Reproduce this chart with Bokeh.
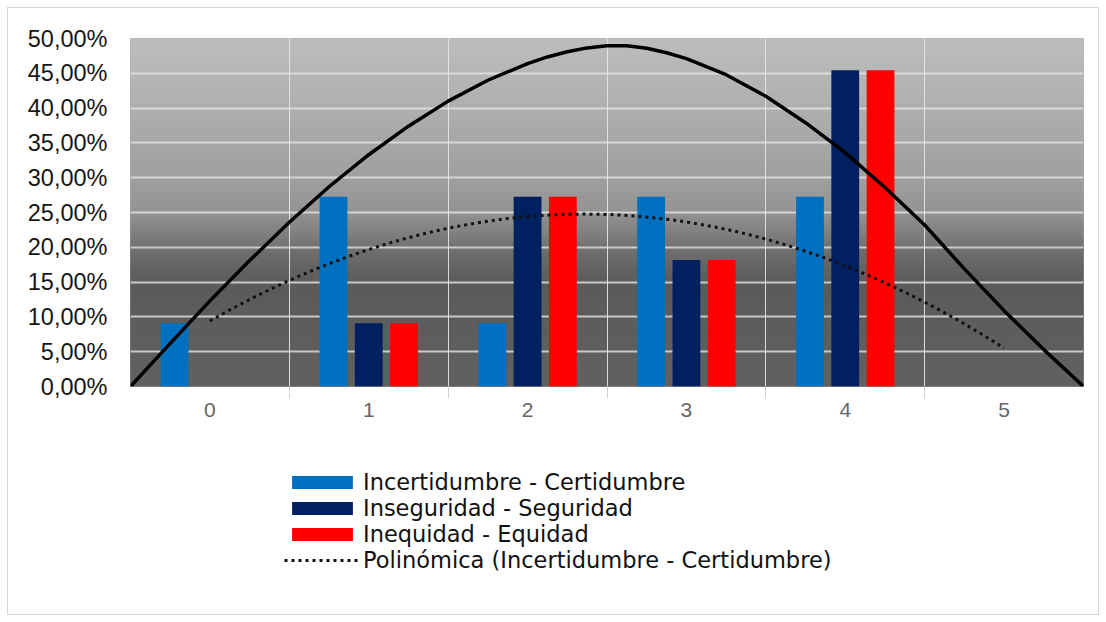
import numpy as np
from bokeh.plotting import figure
from bokeh.layouts import column
from bokeh.models import Range1d, FixedTicker, Grid, Legend, LegendItem
from bokeh.embed import file_html
from bokeh.resources import INLINE

# ---------------- data ----------------
categories = ["0", "1", "2", "3", "4", "5"]
x_pos = [0, 1, 2, 3, 4, 5]
incertidumbre = [9.09, 27.27, 9.09, 27.27, 27.27, 0.0]
inseguridad = [0.0, 9.09, 27.27, 18.18, 45.45, 0.0]
inequidad = [0.0, 9.09, 27.27, 18.18, 45.45, 0.0]
series_names = ["Incertidumbre - Certidumbre", "Inseguridad - Seguridad", "Inequidad - Equidad"]
trend_name = "Polinómica (Incertidumbre - Certidumbre)"

# hand-drawn black curve
curve_x = [-0.5, -0.25, 0.0, 0.25, 0.5, 0.75, 1.0, 1.25, 1.5, 1.75, 2.0, 2.125, 2.25, 2.375, 2.5,
           2.625, 2.75, 2.875, 3.0, 3.25, 3.5, 3.75, 4.0, 4.25, 4.5, 4.75, 5.0, 5.25, 5.5]
curve_y = [0.0, 6.2, 12.3, 18.1, 23.6, 28.7, 33.3, 37.4, 41.0, 44.0, 46.4, 47.35, 48.1, 48.65, 48.95,
           48.95, 48.6, 47.95, 47.1, 44.8, 41.7, 37.9, 33.6, 28.6, 23.2, 16.9, 10.9, 5.3, 0.0]

y_ticks = [0, 5, 10, 15, 20, 25, 30, 35, 40, 45, 50]
y_tick_labels = ["0,00%", "5,00%", "10,00%", "15,00%", "20,00%", "25,00%",
                 "30,00%", "35,00%", "40,00%", "45,00%", "50,00%"]

# ---------------- style ----------------
colors = ["#0070c0", "#002060", "#ff0000"]
offsets = [-0.222, 0.0, 0.222]
bar_w = 0.175
trend_style = dict(line_color="#111111", line_width=3, line_dash="3 4")
series_vals = [incertidumbre, inseguridad, inequidad]

p = figure(width=1090, height=432,
           x_range=Range1d(-0.5, len(categories) - 0.5), y_range=Range1d(0, 50),
           output_backend="svg", toolbar_location=None,
           min_border_left=122, min_border_right=15, min_border_top=30, min_border_bottom=54,
           background_fill_color="#646464", border_fill_color="white", outline_line_color=None)

# gradient background (decoration)
edges = np.linspace(0, 50, 201)
mids = (edges[:-1] + edges[1:]) / 2
stop_v = [0, 14, 16, 19, 22, 25, 30, 40, 50]
stop_g = [98, 92, 96, 108, 128, 148, 160, 176, 190]
g = np.interp(mids, stop_v, stop_g)
band_cols = ["#%02x%02x%02x" % (int(v), int(v), int(v)) for v in g]
n = len(mids)
p.quad(left=[-0.5] * n, right=[len(categories) - 0.5] * n, bottom=edges[:-1], top=edges[1:],
       fill_color=band_cols, line_color=band_cols, line_width=1, level="image")

# grids
p.xgrid.visible = False
p.ygrid.ticker = FixedTicker(ticks=y_ticks)
p.ygrid.grid_line_color = "#e4e4e4"
p.ygrid.grid_line_width = 2
p.ygrid.grid_line_alpha = 0.8
boundaries = [i + 0.5 for i in range(len(categories) - 1)]
vgrid = Grid(dimension=0, ticker=FixedTicker(ticks=boundaries),
             grid_line_color="#e8e8e8", grid_line_width=1, grid_line_alpha=0.9)
p.add_layout(vgrid)

# bars
for vals, off, col in zip(series_vals, offsets, colors):
    p.vbar(x=[x + off for x in x_pos], top=vals, width=bar_w, bottom=0,
           fill_color=col, line_color=None)

# polynomial trendline (order 2) of the first series
coef = np.polyfit(x_pos, incertidumbre, 2)
tx = np.linspace(x_pos[0], x_pos[-1], 120)
ty = np.polyval(coef, tx)
p.line(tx, ty, **trend_style)

# black curve
p.line(curve_x, curve_y, line_color="#000000", line_width=3.5, line_join="round")

# axes
p.yaxis.ticker = FixedTicker(ticks=y_ticks)
p.yaxis.major_label_overrides = {t: l for t, l in zip(y_ticks, y_tick_labels)}
p.yaxis.major_tick_line_color = None
p.yaxis.major_tick_out = 0
p.yaxis.minor_tick_line_color = None
p.yaxis.axis_line_color = None
p.yaxis.major_label_standoff = 23
p.yaxis.major_label_text_font = "Liberation Sans"
p.yaxis.major_label_text_font_size = "23.5px"
p.yaxis.major_label_text_color = "#151515"

p.xaxis.ticker = FixedTicker(ticks=x_pos, minor_ticks=boundaries)
p.xaxis.major_label_overrides = {t: l for t, l in zip(x_pos, categories)}
p.xaxis.major_tick_line_color = None
p.xaxis.major_tick_out = 0
p.xaxis.minor_tick_line_color = "#d0d0d0"
p.xaxis.minor_tick_out = 12
p.xaxis.minor_tick_in = 0
p.xaxis.axis_line_color = None
p.xaxis.major_label_standoff = 4
p.xaxis.major_label_text_font = "Liberation Sans"
p.xaxis.major_label_text_font_size = "21px"
p.xaxis.major_label_text_color = "#666666"

# ---------------- legend figure ----------------
p2 = figure(width=1090, height=174, x_range=Range1d(-0.5, 5.5), y_range=Range1d(-2, -1),
            output_backend="svg", toolbar_location=None,
            x_axis_location=None, y_axis_location=None,
            min_border_left=0, min_border_right=0, min_border_top=0, min_border_bottom=0,
            background_fill_color="white", border_fill_color="white", outline_line_color=None)
p2.xgrid.visible = False
p2.ygrid.visible = False
leg_r = [p2.vbar(x=x_pos, top=vals, width=bar_w, fill_color=c, line_color=None)
         for vals, c in zip(series_vals, colors)]
leg_r.append(p2.line(tx, ty, **trend_style))
for r in leg_r:
    r.visible = False
items = [LegendItem(label=nm, renderers=[r]) for nm, r in zip(series_names + [trend_name], leg_r)]
legend = Legend(items=items, location=(154, 41), orientation="vertical",
                glyph_width=76, glyph_height=16, label_standoff=3, spacing=0,
                padding=0, margin=0, background_fill_alpha=0, border_line_color=None,
                inactive_fill_alpha=0,
                label_text_font="DejaVu Sans", label_text_font_size="22.5px",
                label_text_color="#111111", label_height=20)
p2.add_layout(legend, "center")

layout = column(p, p2, spacing=0)
layout.styles = {"margin": "8px", "outline": "1px solid #d6d6d6"}

open("out.html", "w").write(file_html(layout, INLINE))
